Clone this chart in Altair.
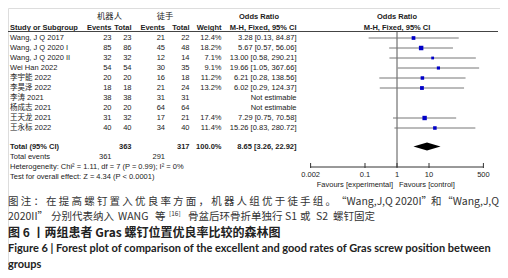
import altair as alt
import pandas as pd

# ---------------- data ----------------
studies = ["Wang, J Q 2017", "Wang, J Q 2020 I", "Wang, J Q 2020 II", "Wei Han 2022",
           "李宇能 2022", "李昊泽 2022", "李涛 2021", "杨成志 2021", "王天龙 2021", "王永标  2022"]
robot_events = [23, 85, 32, 54, 20, 18, 38, 20, 31, 40]
robot_total = [23, 86, 32, 54, 20, 18, 38, 20, 32, 40]
hand_events = [21, 45, 12, 30, 16, 21, 31, 64, 17, 34]
hand_total = [22, 48, 14, 35, 18, 24, 31, 64, 21, 40]
weights = [12.4, 18.2, 7.1, 9.1, 11.2, 13.2, None, None, 17.4, 11.4]
odds = [3.28, 5.67, 13.00, 19.66, 6.21, 6.02, None, None, 7.29, 15.26]
ci_low = [0.13, 0.57, 0.58, 1.05, 0.28, 0.29, None, None, 0.75, 0.83]
ci_high = [84.87, 56.06, 290.21, 367.66, 138.56, 124.37, None, None, 70.58, 280.72]

total_robot, total_hand = 363, 317
events_robot, events_hand = 361, 291
total_or, total_lo, total_hi = 8.65, 3.26, 22.92
tick_values = [0.002, 0.1, 1, 10, 500]
tick_labels = ["0.002", "0.1", "1", "10", "500"]

# ---------------- tables ----------------
rows = list(range(len(studies)))
def fmt_or(o, l, h):
    return "Not estimable" if o is None else f"{o:.2f} [{l:.2f}, {h:.2f}]"

df = pd.DataFrame({
    "row": rows,
    "study": studies,
    "e1": [str(v) for v in robot_events],
    "t1": [str(v) for v in robot_total],
    "e2": [str(v) for v in hand_events],
    "t2": [str(v) for v in hand_total],
    "w": ["" if w is None else f"{w:.1f}%" for w in weights],
    "ortxt": [fmt_or(o, l, h) for o, l, h in zip(odds, ci_low, ci_high)],
})
est = pd.DataFrame({"row": rows, "or": odds, "lo": ci_low, "hi": ci_high, "weight": weights}).dropna()

R_TOTAL, R_EV, R_HET, R_TEST = 10.85, 11.9, 12.9, 13.9
R_SUP, R_HEAD = -2.1, -1.05

yscale = alt.Scale(domain=[0, 10], range=[30, 130], zero=False, nice=False)
xscale = alt.Scale(type="log", domain=[0.002, 500], range=[302.6, 475.4], nice=False)

TXT = "#222"
LAT = "Liberation Sans, Noto Sans CJK SC"
FS = 7.5

def txt(data, field, x, align="left", bold=False, font=LAT, size=FS, color=TXT):
    return alt.Chart(data).mark_text(
        align=align, baseline="middle", font=font, fontSize=size,
        fontWeight="bold" if bold else "normal", color=color
    ).encode(
        x=alt.value(x),
        y=alt.Y("row:Q", scale=yscale, axis=None),
        text=alt.Text(f"{field}:N"),
    )

def one(text, row):
    return pd.DataFrame({"row": [row], "t": [text]})

layers = []
# header
layers += [
    txt(one("机器人", R_SUP), "t", 101.5, "center", font="Noto Sans CJK SC", size=8.3),
    txt(one("徒手", R_SUP), "t", 157, "center", font="Noto Sans CJK SC", size=8.3),
    txt(one("Odds Ratio", R_SUP), "t", 251, "center", bold=True),
    txt(one("Odds Ratio", R_SUP), "t", 389, "center", bold=True),
    txt(one("Study or Subgroup", R_HEAD), "t", 2, "left", bold=True),
    txt(one("Events", R_HEAD), "t", 103.5, "right", bold=True),
    txt(one("Total", R_HEAD), "t", 123.5, "right", bold=True),
    txt(one("Events", R_HEAD), "t", 157, "right", bold=True),
    txt(one("Total", R_HEAD), "t", 181.5, "right", bold=True),
    txt(one("Weight", R_HEAD), "t", 213.5, "right", bold=True),
    txt(one("M-H, Fixed, 95% CI", R_HEAD), "t", 288.5, "right", bold=True),
    txt(one("M-H, Fixed, 95% CI", R_HEAD), "t", 389, "center", bold=True),
]
layers.append(
    alt.Chart(one("", 0)).mark_rule(color="#444", strokeWidth=1).encode(
        x=alt.value(0), x2=alt.value(490), y=alt.value(23.5))
)
# study rows
layers += [
    txt(df, "study", 2, "left"),
    txt(df, "e1", 103.5, "right"),
    txt(df, "t1", 123.5, "right"),
    txt(df, "e2", 157, "right"),
    txt(df, "t2", 181.5, "right"),
    txt(df, "w", 213.5, "right"),
    txt(df, "ortxt", 288.5, "right"),
]
# totals
layers += [
    txt(one("Total (95% CI)", R_TOTAL), "t", 2, "left", bold=True),
    txt(one(str(total_robot), R_TOTAL), "t", 123.5, "right", bold=True),
    txt(one(str(total_hand), R_TOTAL), "t", 181.5, "right", bold=True),
    txt(one("100.0%", R_TOTAL), "t", 213.5, "right", bold=True),
    txt(one(f"{total_or:.2f} [{total_lo:.2f}, {total_hi:.2f}]", R_TOTAL), "t", 288.5, "right", bold=True),
    txt(one("Total events", R_EV), "t", 2, "left"),
    txt(one(str(events_robot), R_EV), "t", 103.5, "right"),
    txt(one(str(events_hand), R_EV), "t", 157, "right"),
    txt(one("Heterogeneity: Chi² = 1.11, df = 7 (P = 0.99); I² = 0%", R_HET), "t", 2, "left"),
    txt(one("Test for overall effect: Z = 4.34 (P < 0.0001)", R_TEST), "t", 2, "left"),
]

# forest panel
layers.append(
    alt.Chart(pd.DataFrame({"v": [1]})).mark_rule(color="#555", strokeWidth=1).encode(
        x=alt.X("v:Q", scale=xscale, axis=None), y=alt.value(24), y2=alt.value(159))
)
layers.append(
    alt.Chart(est).mark_rule(color="#777", strokeWidth=1).encode(
        x=alt.X("lo:Q", scale=xscale, axis=None), x2="hi:Q",
        y=alt.Y("row:Q", scale=yscale, axis=None))
)
layers.append(
    alt.Chart(est).mark_square(filled=True, color="#0000c8", opacity=1).encode(
        x=alt.X("or:Q", scale=xscale, axis=None),
        y=alt.Y("row:Q", scale=yscale, axis=None),
        size=alt.Size("weight:Q", scale=alt.Scale(domain=[0, 20], range=[0, 22]), legend=None))
)
diamond = pd.DataFrame({
    "x": [total_lo, total_or, total_hi],
    "y": [R_TOTAL, R_TOTAL - 0.4, R_TOTAL],
    "y2": [R_TOTAL, R_TOTAL + 0.4, R_TOTAL],
})
layers.append(
    alt.Chart(diamond).mark_area(color="black", orient="vertical").encode(
        x=alt.X("x:Q", scale=xscale, axis=None),
        y=alt.Y("y:Q", scale=yscale, axis=None), y2="y2:Q")
)
ticks = pd.DataFrame({"t": tick_values, "lab": tick_labels})
layers.append(
    alt.Chart(pd.DataFrame({"a": [tick_values[0]], "b": [tick_values[-1]]})).mark_rule(
        color="#333", strokeWidth=1).encode(
        x=alt.X("a:Q", scale=xscale, axis=None), x2="b:Q", y=alt.value(159))
)
layers.append(
    alt.Chart(ticks).mark_rule(color="#333", strokeWidth=1).encode(
        x=alt.X("t:Q", scale=xscale, axis=None), y=alt.value(155), y2=alt.value(160))
)
layers.append(
    alt.Chart(ticks).mark_text(baseline="middle", align="center", font=LAT, fontSize=FS, color=TXT).encode(
        x=alt.X("t:Q", scale=xscale, axis=None), y=alt.value(166.5), text="lab:N")
)
def fixed(text, x, y, align="left", font=LAT, size=FS, bold=False, color=TXT):
    return alt.Chart(pd.DataFrame({"t": [text]})).mark_text(
        align=align, baseline="middle", font=font, fontSize=size,
        fontWeight="bold" if bold else "normal", color=color
    ).encode(x=alt.value(x), y=alt.value(y), text="t:N")

layers += [
    fixed("Favours [experimental]", 385, 176.5, "right"),
    fixed("Favours [control]", 391, 176.5, "left"),
]

# ---------------- caption ----------------
CJK = "Noto Sans CJK SC"
CC = "#333"
CS = 10.5
S = -5  # caption x offset (page -> chart)

# first line is justified: spread the characters evenly
line1 = "图注：在提高螺钉置入优良率方面，机器人组优于徒手组。"
start, end = 5, 333
pitch = (end - start - CS) / (len(line1) - 1)
chars = pd.DataFrame({"c": list(line1),
                      "px": [start + S + CS / 2 + i * pitch for i in range(len(line1))]})
layers.append(
    alt.Chart(chars).mark_text(align="center", baseline="middle", font=CJK, fontSize=CS, color=CC).encode(
        x=alt.X("px:Q", scale=None), y=alt.value(194), text="c:N")
)
layers += [
    fixed("“Wang,J,Q 2020I”", 333 + S, 194, font=CJK, size=CS, color=CC),
    fixed("和", 428 + S, 194, font=CJK, size=CS, color=CC),
    fixed("“Wang,J,Q", 491, 194, align="right", font=CJK, size=CS, color=CC),
    fixed("2020II”", 5 + S, 209, font=CJK, size=CS, color=CC),
    fixed("分别代表纳入", 48 + S, 209, font=CJK, size=CS, color=CC),
    fixed("WANG", 115 + S, 209, font=CJK, size=CS, color=CC),
    fixed("等", 152 + S, 209, font=CJK, size=CS, color=CC),
    fixed("[16]", 166 + S, 205.5, font=CJK, size=6.5, color=CC),
    fixed("骨盆后环骨折单独行", 185 + S, 209, font=CJK, size=CS, color=CC),
    fixed("S1", 282 + S, 209, font=CJK, size=CS, color=CC),
    fixed("或", 297 + S, 209, font=CJK, size=CS, color=CC),
    fixed("S2", 313 + S, 209, font=CJK, size=CS, color=CC),
    fixed("螺钉固定", 330 + S, 209, font=CJK, size=CS, color=CC),
    fixed("图 6 丨两组患者 Gras 螺钉位置优良率比较的森林图", 5 + S, 225, font=CJK, size=12, bold=True, color="#222"),
    fixed("Figure 6  |  Forest plot of comparison of the excellent and good rates of Gras screw position between",
          5 + S, 241, font="Lato", size=11.0, bold=True, color="#222"),
    fixed("groups", 5 + S, 256.5, font="Lato", size=11.0, bold=True, color="#222"),
]

chart = alt.layer(*layers).properties(
    width=492, height=262,
    autosize=alt.AutoSizeParams(type="none"),
    padding=0,
).configure_view(stroke=None).configure(background="white")

chart.save("out.html", embed_options={"renderer": "svg", "actions": False})
